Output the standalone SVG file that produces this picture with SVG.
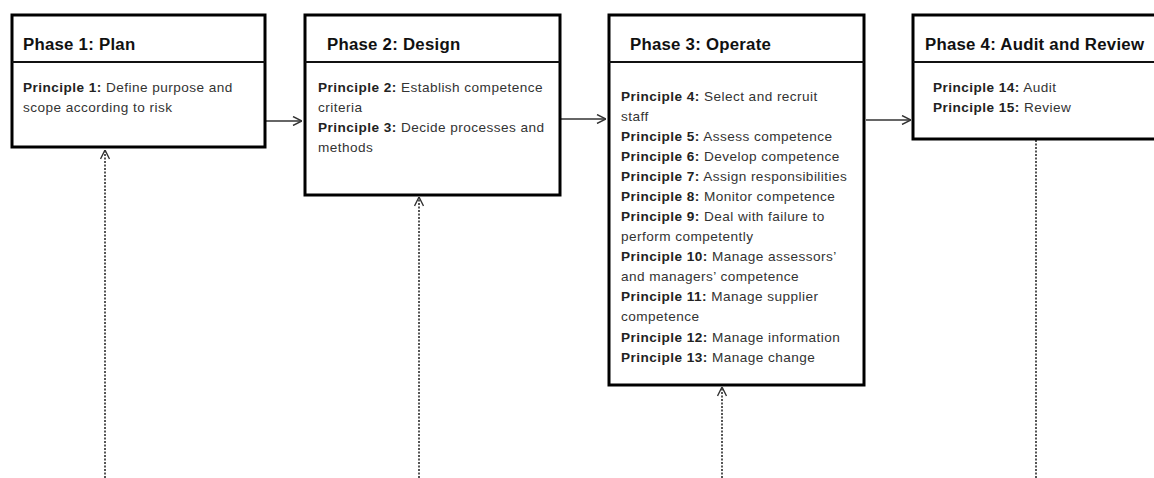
<svg xmlns="http://www.w3.org/2000/svg" width="1154" height="478" viewBox="0 0 1154 478">
<style>
.box{fill:#fff;stroke:#000;stroke-width:3}
.div{stroke:#111;stroke-width:2}
.title{font-family:"Liberation Sans",Arial,sans-serif;font-weight:bold;font-size:16.8px;letter-spacing:0.25px;fill:#111}
.body{font-family:"Liberation Sans",Arial,sans-serif;font-size:13.6px;letter-spacing:0.45px;fill:#333}
.b{font-weight:bold;fill:#222}
.flow{stroke:#333;stroke-width:1.3;fill:none}
.dash{stroke:#555;stroke-width:2;stroke-dasharray:2 1.5;fill:none}
</style>
<defs>
<marker id="open" viewBox="0 0 10 10" refX="10" refY="5" markerWidth="10" markerHeight="10" markerUnits="userSpaceOnUse" orient="auto">
<path d="M1,0.5 L10,5 L1,9.5" fill="none" stroke="#333" stroke-width="1.4"/>
</marker>
</defs>
<rect width="1154" height="478" fill="#fff"/>
<g id="connectors">
<line class="flow" x1="266" y1="121" x2="302" y2="121" marker-end="url(#open)"/>
<line class="flow" x1="561" y1="119" x2="606" y2="119" marker-end="url(#open)"/>
<line class="flow" x1="866" y1="120" x2="911" y2="120" marker-end="url(#open)"/>
<line class="dash" x1="105" y1="478" x2="105" y2="150" marker-end="url(#open)"/>
<line class="dash" x1="419" y1="478" x2="419" y2="197" marker-end="url(#open)"/>
<line class="dash" x1="722" y1="478" x2="722" y2="387" marker-end="url(#open)"/>
<line class="dash" x1="1036" y1="478" x2="1036" y2="140"/>
</g>
<g id="phase1">
<rect class="box" x="12" y="15" width="253" height="132"/>
<line class="div" x1="12" y1="62" x2="265" y2="62"/>
<text class="title" x="23" y="50">Phase 1: Plan</text>
<text class="body" x="23" y="92"><tspan class="b">Principle 1:</tspan> Define purpose and</text>
<text class="body" x="23" y="112">scope according to risk</text>
</g>
<g id="phase2">
<rect class="box" x="305" y="15" width="255" height="180"/>
<line class="div" x1="305" y1="62" x2="560" y2="62"/>
<text class="title" x="327" y="50">Phase 2: Design</text>
<text class="body" x="318" y="92"><tspan class="b">Principle 2:</tspan> Establish competence</text>
<text class="body" x="318" y="112">criteria</text>
<text class="body" x="318" y="132"><tspan class="b">Principle 3:</tspan> Decide processes and</text>
<text class="body" x="318" y="152">methods</text>
</g>
<g id="phase3">
<rect class="box" x="609" y="15" width="255" height="370"/>
<line class="div" x1="609" y1="62" x2="864" y2="62"/>
<text class="title" x="630" y="50">Phase 3: Operate</text>
<text class="body" x="621" y="101"><tspan class="b">Principle 4:</tspan> Select and recruit</text>
<text class="body" x="621" y="121">staff</text>
<text class="body" x="621" y="141"><tspan class="b">Principle 5:</tspan> Assess competence</text>
<text class="body" x="621" y="161"><tspan class="b">Principle 6:</tspan> Develop competence</text>
<text class="body" x="621" y="181"><tspan class="b">Principle 7:</tspan> Assign responsibilities</text>
<text class="body" x="621" y="201"><tspan class="b">Principle 8:</tspan> Monitor competence</text>
<text class="body" x="621" y="221"><tspan class="b">Principle 9:</tspan> Deal with failure to</text>
<text class="body" x="621" y="241">perform competently</text>
<text class="body" x="621" y="261"><tspan class="b">Principle 10:</tspan> Manage assessors’</text>
<text class="body" x="621" y="281">and managers’ competence</text>
<text class="body" x="621" y="301"><tspan class="b">Principle 11:</tspan> Manage supplier</text>
<text class="body" x="621" y="321">competence</text>
<text class="body" x="621" y="342"><tspan class="b">Principle 12:</tspan> Manage information</text>
<text class="body" x="621" y="362"><tspan class="b">Principle 13:</tspan> Manage change</text>
</g>
<g id="phase4">
<rect class="box" x="913" y="15" width="260" height="124"/>
<line class="div" x1="913" y1="62" x2="1160" y2="62"/>
<text class="title" x="925" y="50">Phase 4: Audit and Review</text>
<text class="body" x="933" y="92"><tspan class="b">Principle 14:</tspan> Audit</text>
<text class="body" x="933" y="112"><tspan class="b">Principle 15:</tspan> Review</text>
</g>
</svg>
